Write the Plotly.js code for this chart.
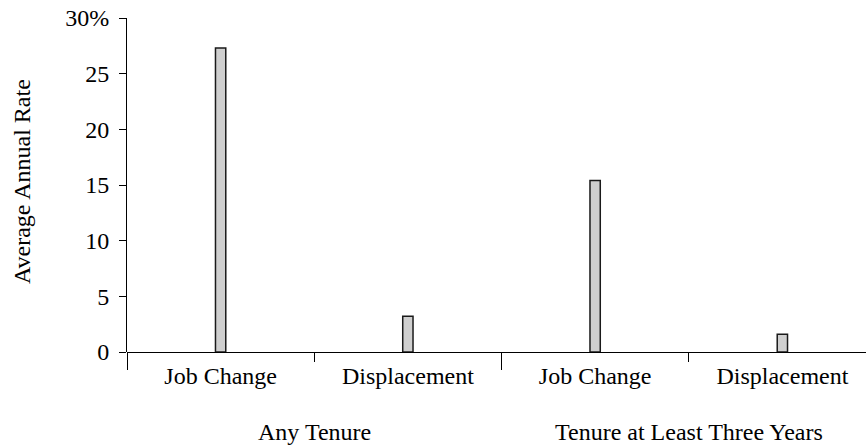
<!DOCTYPE html>
<html>
<head>
<meta charset="utf-8">
<script src="https://cdn.plot.ly/plotly-3.0.1.min.js"></script>
<style>
html, body { margin: 0; padding: 0; overflow: hidden; background: #fff; width: 866px; height: 445px; }
#chart { width: 880px; height: 445px; }
</style>
</head>
<body>
<div id="chart"></div>
<script>
// Data
var categories = ["Job Change", "Displacement", "Job Change", "Displacement"];
var groups = ["Any Tenure", "Tenure at Least Three Years"];
var values = [27.3, 3.2, 15.4, 1.6];
var yTickVals = [0, 5, 10, 15, 20, 25, 30];
var yTickText = ["0", "5", "10", "15", "20", "25", "30%"];
var yTitle = "Average Annual Rate";

var FONT = "Liberation Serif, Times New Roman, serif";
var FS = 24;
var pos = categories.map(function (c, i) { return i; });

var trace = {
  type: "bar",
  x: pos,
  y: values,
  width: 0.055,
  marker: { color: "#cfcfcf", line: { color: "#1a1a1a", width: 1.5 } },
  hoverinfo: "skip"
};

var groupCenters = groups.map(function (g, i) { return i * 2 + 0.5; });

var layout = {
  width: 880,
  height: 445,
  margin: { l: 127, r: 4, t: 18, b: 93 },
  paper_bgcolor: "#ffffff",
  plot_bgcolor: "#ffffff",
  showlegend: false,
  font: { family: FONT, size: FS, color: "#000" },
  xaxis: {
    range: [-0.5, 3.5],
    tickmode: "array",
    tickvals: pos,
    ticktext: categories,
    ticks: "",
    showgrid: false,
    zeroline: false,
    showline: false,
    ticklabelstandoff: 7,
    tickfont: { family: FONT, size: FS, color: "#000" },
    minor: { tickmode: "array", tickvals: [0.5, 2.5], ticks: "outside", ticklen: 9, tickwidth: 1, tickcolor: "#000", showgrid: false },
    fixedrange: true
  },
  xaxis2: {
    overlaying: "x",
    range: [-0.5, 3.5],
    tickmode: "array",
    tickvals: [-0.5, 1.5],
    ticks: "outside",
    ticklen: 17,
    tickwidth: 1,
    tickcolor: "#000",
    showticklabels: false,
    showgrid: false,
    zeroline: false,
    showline: false,
    fixedrange: true
  },
  yaxis: {
    range: [0, 30],
    tickmode: "array",
    tickvals: yTickVals,
    ticktext: yTickText,
    ticks: "outside",
    ticklen: 7,
    tickwidth: 1,
    tickcolor: "#000",
    showline: true,
    linecolor: "#000",
    linewidth: 1,
    showgrid: false,
    zeroline: true,
    zerolinecolor: "#000",
    zerolinewidth: 1,
    ticklabelstandoff: 5,
    tickfont: { family: FONT, size: FS, color: "#000" },
    fixedrange: true
  },
  annotations: [
    {
      text: yTitle, xref: "paper", yref: "paper", x: 0, y: 0.5,
      xanchor: "center", yanchor: "middle", xshift: -105, yshift: 3, textangle: -90,
      showarrow: false, font: { family: FONT, size: FS, color: "#000" }
    }
  ].concat(groups.map(function (g, i) {
    return {
      text: g, xref: "x", yref: "paper", x: groupCenters[i], y: 0,
      xanchor: "center", yanchor: "middle", yshift: -80,
      showarrow: false, font: { family: FONT, size: FS, color: "#000" }
    };
  }))
};

// dummy empty trace so xaxis2 is drawn
var helper = { type: "scatter", x: [], y: [], xaxis: "x2", yaxis: "y", hoverinfo: "skip", showlegend: false };

Plotly.newPlot("chart", [trace, helper], layout, { staticPlot: true, displayModeBar: false });
</script>
</body>
</html>
